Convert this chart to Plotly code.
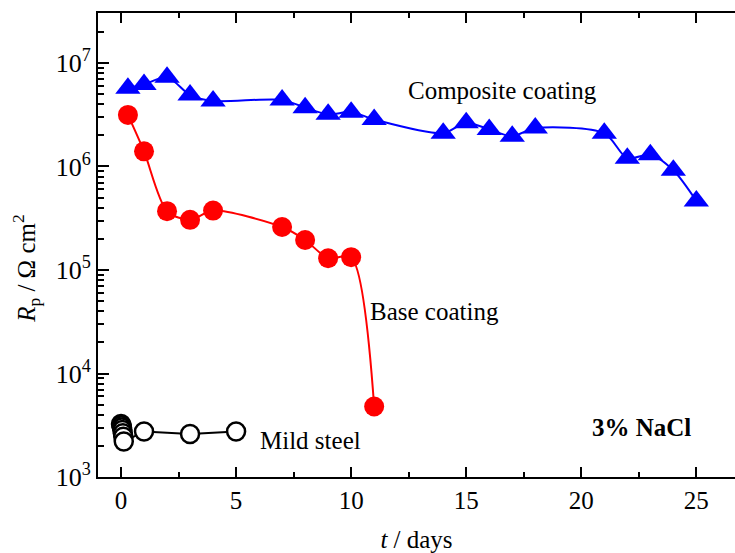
import plotly.graph_objects as go

# ---- data ----
t_comp = [0.3, 1, 2, 3, 4, 7, 8, 9, 10, 11, 14, 15, 16, 17, 18, 21, 22, 23, 24, 25]
rp_comp = [5.7e6, 6.2e6, 7.3e6, 4.9e6, 4.3e6, 4.4e6, 3.7e6, 3.2e6, 3.35e6, 2.85e6,
           2.1e6, 2.65e6, 2.28e6, 1.96e6, 2.35e6, 2.1e6, 1.2e6, 1.3e6, 9.2e5, 4.65e5]

t_base = [0.3, 1, 2, 3, 4, 7, 8, 9, 10, 11]
rp_base = [3.15e6, 1.4e6, 3.7e5, 3.05e5, 3.75e5, 2.6e5, 1.95e5, 1.3e5, 1.33e5, 4.8e3]

t_mild = [0.0, 0.02, 0.04, 0.06, 0.08, 0.10, 0.12, 1, 3, 5]
rp_mild = [3.25e3, 3.15e3, 3.0e3, 2.85e3, 2.65e3, 2.45e3, 2.2e3, 2.75e3, 2.6e3, 2.75e3]

y_major_ticks = [1e3, 1e4, 1e5, 1e6, 1e7]
y_tick_labels = ["10<sup>3</sup>", "10<sup>4</sup>", "10<sup>5</sup>",
                 "10<sup>6</sup>", "10<sup>7</sup>"]
y_minor_ticks = [k * 10 ** n for n in range(3, 8) for k in range(2, 10)]

FONT = "Liberation Serif"
fig = go.Figure()

fig.add_trace(go.Scatter(
    x=t_mild, y=rp_mild, mode="lines+markers",
    line=dict(color="black", width=2),
    marker=dict(symbol="circle", size=18, color="white",
                line=dict(color="black", width=2.5)),
    showlegend=False))

fig.add_trace(go.Scatter(
    x=t_base, y=rp_base, mode="lines+markers",
    line=dict(color="#ff0000", width=2, shape="spline", smoothing=0.8),
    marker=dict(symbol="circle", size=20, color="#ff0000"),
    showlegend=False))

fig.add_trace(go.Scatter(
    x=t_comp, y=rp_comp, mode="lines+markers",
    line=dict(color="#0000ff", width=2, shape="spline", smoothing=0.8),
    marker=dict(symbol="triangle-up", size=22, color="#0000ff"),
    showlegend=False))

ann_font = dict(family=FONT, size=25, color="black")
fig.add_annotation(x=16.56, y=6.732, text="Composite coating", showarrow=False,
                   font=ann_font, xanchor="center", yanchor="middle")
fig.add_annotation(x=13.62, y=4.597, text="Base coating", showarrow=False,
                   font=ann_font, xanchor="center", yanchor="middle")
fig.add_annotation(x=8.23, y=3.351, text="Mild steel", showarrow=False,
                   font=ann_font, xanchor="center", yanchor="middle")
fig.add_annotation(x=22.62, y=3.476, text="<b>3% NaCl</b>", showarrow=False,
                   font=ann_font, xanchor="center", yanchor="middle")
# y-axis title
fig.add_annotation(xref="paper", yref="paper", x=-0.112, y=0.45,
                   text="<i>R</i><sub>p</sub> / Ω cm<sup>2</sup>", textangle=-90,
                   showarrow=False, font=ann_font, xanchor="center", yanchor="middle")

fig.update_layout(
    width=735, height=553,
    margin=dict(l=98, r=0, t=13, b=76),
    plot_bgcolor="white", paper_bgcolor="white",
    font=dict(family=FONT, size=25, color="black"),
)

fig.update_xaxes(
    range=[-1, 26.68], tick0=0, dtick=5,
    showline=True, linecolor="black", linewidth=2, mirror="ticks",
    ticks="inside", ticklen=10, tickwidth=2, tickcolor="black",
    minor=dict(ticks="inside", dtick=2.5, ticklen=5, tickwidth=2, tickcolor="black"),
    showgrid=False, zeroline=False,
    tickfont=dict(family=FONT, size=25),
    title=dict(text="<i>t</i> / days", font=dict(family=FONT, size=25), standoff=20),
)

fig.update_yaxes(
    type="log", range=[3, 7.483],
    tickmode="array", tickvals=y_major_ticks, ticktext=y_tick_labels,
    showline=True, linecolor="black", linewidth=2, mirror=False,
    ticks="inside", ticklen=11, tickwidth=2, tickcolor="black",
    minor=dict(tickmode="array", tickvals=y_minor_ticks, ticks="inside",
               ticklen=6, tickwidth=2, tickcolor="black", showgrid=False),
    showgrid=False, zeroline=False,
    tickfont=dict(family=FONT, size=26),
)

fig.write_html("out.html")
